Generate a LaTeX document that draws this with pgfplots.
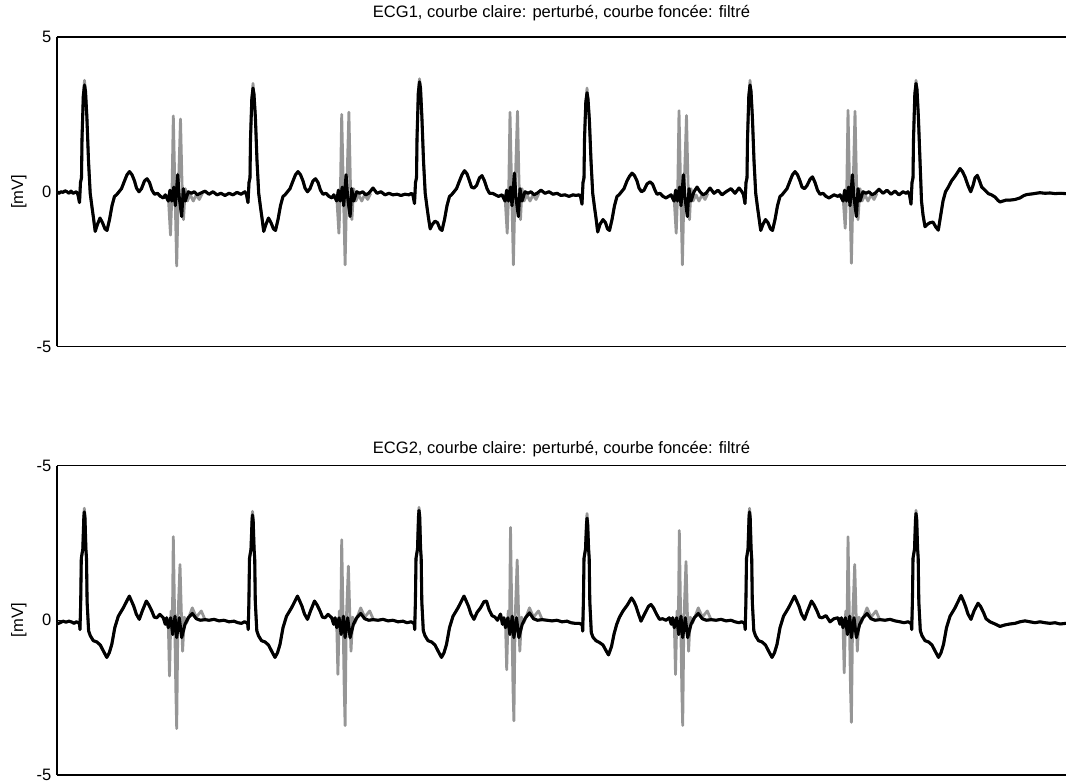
\documentclass[border=0pt]{standalone}
\usepackage{fontspec}
\setmainfont{Liberation Sans}
\usepackage{pgfplots}
\usepackage{pgfplotstable}
\pgfplotsset{compat=1.18}
\newcommand\fs{\fontsize{12.4pt}{14pt}\selectfont}
\definecolor{noisy}{RGB}{150,150,150}

% ECG1 filtered (dark curve); x in sample position, y in mV
\pgfplotstableread[row sep=\\]{
x y\\
57 0.0\\ 59 -0.05\\ 61 0.0\\ 63 -0.02\\ 65 0.03\\ 67 0.0\\ 69 -0.05\\ 71 0.02\\ 73 -0.05\\
76.5 0.0\\ 78 -0.1\\ 79.5 -0.35\\ 80.5 0.3\\ 81.5 0.45\\ 82 1.7\\ 83.3 3.1\\ 84.5 3.45\\ 85.5 3.25\\ 86.9 2.4\\ 88.5 1.0\\ 90.2 -0.05\\ 92 -0.5\\ 93.5 -0.85\\ 95.2 -1.28\\ 97.5 -1.05\\ 100 -0.85\\ 102.5 -1.0\\ 105 -1.2\\ 107 -1.25\\ 109.5 -0.9\\ 112 -0.45\\ 114.5 -0.15\\ 116.5 -0.1\\ 119 0.0\\ 121.5 0.1\\ 124.5 0.35\\ 127 0.55\\ 129.5 0.65\\ 132 0.55\\ 134.5 0.35\\ 136.5 0.12\\ 139 0.0\\ 141.5 0.1\\ 144.5 0.35\\ 147 0.42\\ 149.5 0.3\\ 152 0.05\\ 154.5 -0.08\\ 157.5 -0.05\\ 160.5 -0.15\\ 163.5 -0.2\\
165.3 -0.1\\ 168.3 -0.3\\ 170 0.05\\ 171.8 -0.3\\ 173.8 0.15\\ 175.3 -0.45\\ 177.7 0.55\\ 179.3 -0.2\\ 181.7 -0.8\\ 183.3 0.1\\ 185.3 -0.3\\ 188.3 0.0\\ 191.3 -0.05\\ 194.3 0.0\\ 197.3 -0.1\\ 200.3 -0.05\\
205 0.02\\ 209 -0.08\\ 213 0.0\\ 217 -0.1\\ 221 -0.05\\ 225 -0.12\\ 229 -0.05\\ 233 -0.1\\ 237 -0.02\\ 241 -0.08\\
245 0.0\\ 246.5 -0.1\\ 248 -0.35\\ 249 0.3\\ 250 0.45\\ 250.5 1.7\\ 251.8 3.0\\ 253 3.35\\ 254 3.15\\ 255.4 2.4\\ 257 1.0\\ 258.7 -0.05\\ 260.5 -0.5\\ 262 -0.85\\ 263.7 -1.28\\ 266 -1.05\\ 268.5 -0.85\\ 271 -1.0\\ 273.5 -1.2\\ 275.5 -1.25\\ 278 -0.9\\ 280.5 -0.45\\ 283 -0.15\\ 285 -0.1\\ 287.5 0.0\\ 290 0.1\\ 293 0.35\\ 295.5 0.55\\ 298 0.65\\ 300.5 0.55\\ 303 0.35\\ 305 0.12\\ 307.5 0.0\\ 310 0.1\\ 313 0.35\\ 315.5 0.42\\ 318 0.3\\ 320.5 0.05\\ 323 -0.08\\ 326 -0.05\\ 329 -0.15\\ 332 -0.2\\
333.7 -0.1\\ 336.7 -0.3\\ 338.4 0.05\\ 340.2 -0.3\\ 342.2 0.15\\ 343.7 -0.45\\ 346.1 0.55\\ 347.7 -0.2\\ 350.1 -0.8\\ 351.7 0.1\\ 353.7 -0.3\\ 356.7 0.0\\ 359.7 -0.05\\ 362.7 0.0\\ 365.7 -0.1\\ 368.7 -0.05\\
373 0.12\\ 377 -0.05\\ 381 0.0\\ 385 -0.1\\ 389 -0.05\\ 393 -0.1\\ 397 -0.08\\ 401 -0.12\\ 405 -0.08\\ 409 -0.1\\
411.5 -0.05\\ 413 -0.12\\ 414.5 -0.38\\ 415.5 0.3\\ 416.5 0.45\\ 417 1.7\\ 418.3 3.2\\ 419.5 3.55\\ 420.5 3.35\\ 421.9 2.4\\ 423.5 1.0\\ 425.2 -0.05\\ 427 -0.5\\ 428.5 -0.85\\ 430.2 -1.2\\ 432.5 -1.05\\ 435 -0.95\\ 437.5 -1.0\\ 440 -1.2\\ 442 -1.25\\ 444.5 -0.9\\ 447 -0.45\\ 449.5 -0.15\\ 451.5 -0.1\\ 454 0.0\\ 456.5 0.1\\ 459.5 0.35\\ 462 0.55\\ 464.5 0.68\\ 467 0.58\\ 469.5 0.35\\ 471.5 0.15\\ 474 0.12\\ 476.5 0.2\\ 479.5 0.45\\ 482 0.52\\ 484.5 0.35\\ 487 0.1\\ 489.5 -0.05\\ 492.5 -0.05\\ 495.5 -0.1\\ 498.5 -0.15\\
502 -0.1\\ 505 -0.3\\ 506.7 0.05\\ 508.5 -0.3\\ 510.5 0.15\\ 512 -0.45\\ 514.4 0.6\\ 516 -0.2\\ 518.4 -0.8\\ 520 0.1\\ 522 -0.3\\ 525 0.0\\ 528 -0.05\\ 531 0.0\\ 534 -0.1\\ 537 -0.05\\
541 0.05\\ 545 -0.05\\ 549 0.0\\ 553 -0.08\\ 557 -0.05\\ 561 -0.12\\ 565 -0.1\\ 569 -0.15\\ 573 -0.1\\ 576 -0.12\\
579 -0.1\\ 580.5 -0.15\\ 582 -0.4\\ 583 0.3\\ 584 0.45\\ 584.5 1.7\\ 585.8 2.9\\ 587 3.2\\ 588 3.0\\ 589.4 2.3\\ 591 1.0\\ 592.7 -0.05\\ 594.5 -0.5\\ 596 -0.85\\ 597.7 -1.3\\ 600 -1.05\\ 603 -0.9\\ 605.5 -1.0\\ 607.5 -1.2\\ 609.5 -1.25\\ 612 -0.9\\ 614.5 -0.45\\ 617 -0.15\\ 619 -0.1\\ 621.5 0.0\\ 624 0.1\\ 627 0.35\\ 629.5 0.5\\ 632 0.6\\ 634.5 0.52\\ 637 0.35\\ 639 0.12\\ 641.5 0.0\\ 644 0.05\\ 647 0.25\\ 650 0.32\\ 652.5 0.25\\ 655 0.05\\ 657 -0.08\\ 660 -0.05\\ 663 -0.15\\ 666 -0.2\\
671 -0.1\\ 674 -0.3\\ 675.7 0.05\\ 677.5 -0.3\\ 679.5 0.15\\ 681 -0.45\\ 683.4 0.55\\ 685 -0.2\\ 687.4 -0.8\\ 689 0.1\\ 691 -0.3\\ 694 0.0\\ 697 0.15\\ 700 0.0\\ 703 -0.1\\ 706 -0.05\\
710 0.12\\ 714 -0.05\\ 718 0.05\\ 722 -0.1\\ 726 0.0\\ 731 0.1\\ 735 -0.05\\ 739 0.12\\
742 0.0\\ 743.5 -0.1\\ 745 -0.38\\ 746 0.3\\ 747 0.45\\ 747.5 1.7\\ 748.8 3.1\\ 750 3.45\\ 751 3.25\\ 752.4 2.4\\ 754 1.0\\ 755.7 -0.05\\ 757.5 -0.5\\ 759 -0.85\\ 760.7 -1.25\\ 763 -1.05\\ 765.5 -0.9\\ 768 -1.0\\ 770.5 -1.2\\ 772.5 -1.25\\ 775 -0.9\\ 777.5 -0.45\\ 780 -0.15\\ 782 -0.1\\ 784.5 0.0\\ 787 0.1\\ 790 0.35\\ 792.5 0.55\\ 795 0.65\\ 797.5 0.55\\ 800 0.35\\ 802 0.15\\ 804.5 0.1\\ 807 0.2\\ 810 0.4\\ 812.5 0.48\\ 815 0.3\\ 817.5 0.05\\ 820 -0.08\\ 823 -0.05\\ 826 -0.15\\ 829 -0.2\\ 834 -0.1\\ 838 -0.15\\
840 -0.1\\ 843 -0.3\\ 844.7 0.05\\ 846.5 -0.3\\ 848.5 0.15\\ 850 -0.45\\ 852.4 0.55\\ 854 -0.2\\ 856.4 -0.8\\ 858 0.1\\ 860 -0.3\\ 863 0.0\\ 866 -0.05\\ 869 0.0\\ 872 -0.1\\ 875 -0.05\\
879 0.08\\ 883 -0.05\\ 887 0.05\\ 891 -0.08\\ 895 0.02\\ 899 -0.1\\ 903 0.0\\ 906 -0.05\\
908 0.0\\ 909.5 -0.1\\ 911 -0.4\\ 912 0.3\\ 913 0.45\\ 913.5 1.7\\ 914.8 3.15\\ 916 3.5\\ 917 3.3\\ 918.4 2.4\\ 920 1.0\\ 921.5 -0.3\\ 923 -0.75\\ 925 -1.13\\ 927.5 -1.05\\ 930 -1.0\\ 933 -0.98\\ 936 -1.15\\ 938.3 -1.24\\ 940.5 -0.8\\ 943 -0.3\\ 945.5 0.0\\ 948.3 0.15\\ 951.5 0.35\\ 955 0.5\\ 957.5 0.62\\ 960 0.75\\ 962.5 0.65\\ 965 0.48\\ 968 0.2\\ 970.7 0.0\\ 973 0.2\\ 975 0.45\\ 977.3 0.53\\ 979.5 0.35\\ 981.7 0.15\\ 985 0.05\\ 988.3 -0.06\\ 991.5 -0.1\\ 995 -0.17\\ 998 -0.28\\ 1000 -0.33\\ 1003 -0.3\\ 1006 -0.27\\ 1010 -0.27\\ 1015 -0.25\\ 1020 -0.2\\ 1024 -0.12\\ 1027 -0.09\\ 1032 -0.07\\ 1036 -0.05\\ 1040 -0.03\\ 1045 -0.05\\ 1050 -0.04\\ 1055 -0.06\\ 1060 -0.05\\ 1066 -0.06\\
}\ecgAfilt

% ECG1 perturbed (light curve) where it departs from the filtered one
\pgfplotstableread[row sep=\\]{
x y\\
83.9 3.3\\ 84.5 3.6\\ 85.1 3.35\\ nan nan\\
252.4 3.2\\ 253 3.5\\ 253.6 3.25\\ nan nan\\
418.9 3.4\\ 419.5 3.65\\ 420.1 3.45\\ nan nan\\
586.4 3.05\\ 587 3.35\\ 587.6 3.1\\ nan nan\\
749.4 3.3\\ 750 3.6\\ 750.6 3.35\\ nan nan\\
915.4 3.35\\ 916 3.6\\ 916.6 3.4\\ nan nan\\
165.3 -0.1\\ 168.3 -0.15\\ 170.5 -1.4\\ 172 0.0\\ 173.3 2.45\\ 174.8 0.3\\ 176.7 -2.4\\ 178.3 0.0\\ 180.5 2.35\\ 182 0.3\\ 183.5 -0.9\\ 185.3 0.1\\ 187.3 -0.3\\ 190.3 -0.1\\ 193.3 -0.3\\ 196.3 -0.1\\ 199.3 -0.25\\ 202.3 -0.05\\ nan nan\\
333.7 -0.1\\ 336.7 -0.15\\ 338.9 -1.34\\ 340.4 0.0\\ 341.7 2.5\\ 343.2 0.3\\ 345.1 -2.36\\ 346.7 0.0\\ 348.9 2.57\\ 350.4 0.3\\ 351.9 -0.9\\ 353.7 0.1\\ 355.7 -0.3\\ 358.7 -0.1\\ 361.7 -0.3\\ 364.7 -0.1\\ 367.7 -0.25\\ 370.7 -0.05\\ nan nan\\
502 -0.1\\ 505 -0.15\\ 507.2 -1.34\\ 508.7 0.0\\ 510 2.57\\ 511.5 0.3\\ 513.4 -2.36\\ 515 0.0\\ 517.5 2.6\\ 519 0.3\\ 520.5 -0.9\\ 522 0.1\\ 524 -0.3\\ 527 -0.1\\ 530 -0.3\\ 533 -0.1\\ 536 -0.25\\ 539 -0.05\\ nan nan\\
671 -0.1\\ 674 -0.15\\ 676.2 -1.34\\ 677.7 0.0\\ 679 2.62\\ 680.5 0.3\\ 682.4 -2.36\\ 684 0.0\\ 686.5 2.46\\ 688 0.3\\ 689.5 -0.9\\ 691 0.1\\ 693 -0.3\\ 696 -0.1\\ 699 -0.3\\ 702 -0.1\\ 705 -0.25\\ 708 -0.05\\ nan nan\\
840 -0.1\\ 843 -0.15\\ 845.2 -1.18\\ 846.7 0.0\\ 848 2.63\\ 849.5 0.3\\ 851.4 -2.31\\ 853 0.0\\ 855 2.6\\ 856.5 0.3\\ 858 -0.9\\ 860 0.1\\ 862 -0.3\\ 865 -0.1\\ 868 -0.3\\ 871 -0.1\\ 874 -0.25\\ 877 -0.05\\
}\ecgAnoise

% ECG2 filtered (dark curve)
\pgfplotstableread[row sep=\\]{
x y\\
57 -0.12\\ 60 -0.08\\ 63 -0.03\\ 66 -0.06\\ 69 -0.03\\ 72 -0.06\\ 74 -0.1\\
76.3 -0.05\\ 78.3 -0.08\\ 79.5 -0.12\\ 80 -0.3\\ 80.7 0.6\\ 81.3 2.0\\ 82.8 2.3\\ 83.8 3.3\\ 84.3 3.5\\ 85 3.3\\ 85.9 2.3\\ 86.5 2.0\\ 87.1 0.6\\ 88.6 -0.34\\ 90.3 -0.5\\ 93.3 -0.66\\ 96.8 -0.7\\ 100.3 -0.8\\ 103.3 -0.99\\ 106.8 -1.2\\ 109.3 -1.05\\ 111.8 -0.78\\ 114.8 -0.24\\ 118.3 0.13\\ 123.3 0.4\\ 129.3 0.78\\ 131.8 0.6\\ 133.8 0.45\\ 136.3 0.2\\ 139.3 0.03\\ 142.3 0.3\\ 146.3 0.62\\ 148.8 0.5\\ 151.8 0.3\\ 154.3 0.1\\ 156.8 0.08\\ 159.8 0.19\\
163.3 0.08\\ 165.3 -0.13\\ 166.7 0.08\\ 168.3 -0.24\\ 170.7 0.08\\ 172.7 -0.46\\ 175 0.13\\ 176.7 -0.56\\ 179.3 0.08\\ 181.7 -0.56\\ 185 -0.13\\ 188.3 0.08\\ 192.3 0.22\\ 196.3 0.05\\ 200.3 0.0\\
205 0.02\\ 209 0.0\\ 214 0.03\\ 219 -0.02\\ 224 0.0\\ 229 -0.05\\ 234 -0.03\\ 238 -0.08\\ 241.5 -0.1\\
244.5 -0.05\\ 246.5 -0.08\\ 247.7 -0.12\\ 248.2 -0.3\\ 248.9 0.6\\ 249.5 2.0\\ 251 2.3\\ 252 3.2\\ 252.5 3.4\\ 253.2 3.2\\ 254.1 2.3\\ 254.7 2.0\\ 255.3 0.6\\ 256.8 -0.34\\ 258.5 -0.5\\ 261.5 -0.66\\ 265 -0.7\\ 268.5 -0.8\\ 271.5 -0.99\\ 275 -1.2\\ 277.5 -1.05\\ 280 -0.78\\ 283 -0.24\\ 286.5 0.13\\ 291.5 0.4\\ 297.5 0.78\\ 300 0.6\\ 302 0.45\\ 304.5 0.2\\ 307.5 0.03\\ 310.5 0.3\\ 314.5 0.62\\ 317 0.5\\ 320 0.3\\ 322.5 0.1\\ 325 0.08\\ 328 0.19\\
331.7 0.08\\ 333.7 -0.13\\ 335.1 0.08\\ 336.7 -0.24\\ 339.1 0.08\\ 341.1 -0.46\\ 343.4 0.13\\ 345.1 -0.56\\ 347.7 0.08\\ 350.1 -0.56\\ 353.4 -0.13\\ 356.7 0.08\\ 360.7 0.22\\ 364.7 0.05\\ 368.7 0.0\\
373 0.02\\ 378 0.0\\ 383 0.03\\ 388 -0.02\\ 393 0.0\\ 398 -0.05\\ 403 -0.03\\ 407 -0.08\\
411 -0.05\\ 413 -0.08\\ 414.2 -0.12\\ 414.7 -0.3\\ 415.4 0.6\\ 416 2.0\\ 417.5 2.3\\ 418.5 3.35\\ 419 3.55\\ 419.7 3.35\\ 420.6 2.3\\ 421.2 2.0\\ 421.8 0.6\\ 423.3 -0.34\\ 425 -0.5\\ 428 -0.66\\ 431.5 -0.7\\ 435 -0.8\\ 438 -0.99\\ 441.5 -1.2\\ 444 -1.05\\ 446.5 -0.78\\ 449.5 -0.24\\ 453 0.13\\ 458 0.4\\ 464 0.78\\ 466.5 0.6\\ 468.5 0.45\\ 471 0.2\\ 474 0.03\\ 477 0.25\\ 480.5 0.4\\ 484 0.6\\ 486.5 0.62\\ 489 0.35\\ 492 0.15\\ 495 0.1\\ 497.5 0.0\\
500.5 0.2\\ 502.5 -0.13\\ 503.9 0.08\\ 505.5 -0.24\\ 507.9 0.08\\ 509.9 -0.46\\ 512.2 0.13\\ 513.9 -0.56\\ 516.5 0.08\\ 518.9 -0.56\\ 522.2 -0.13\\ 525.5 0.08\\ 529.5 0.24\\ 533.5 0.05\\ 537.5 0.0\\
542 0.02\\ 547 0.0\\ 552 -0.02\\ 557 0.0\\ 562 -0.05\\ 567 -0.03\\ 571 -0.08\\ 575 -0.1\\
579 -0.1\\ 581 -0.12\\ 582.2 -0.15\\ 582.7 -0.35\\ 583.4 0.6\\ 584 2.0\\ 585.5 2.3\\ 586.5 3.1\\ 587 3.3\\ 587.7 3.1\\ 588.6 2.3\\ 589.2 2.0\\ 589.8 0.6\\ 591.3 -0.4\\ 593 -0.55\\ 596 -0.66\\ 599.5 -0.72\\ 603 -0.8\\ 606 -0.98\\ 608.5 -1.12\\ 611.5 -0.85\\ 614 -0.45\\ 616.7 -0.13\\ 619.5 0.1\\ 623 0.3\\ 627.5 0.5\\ 631.5 0.72\\ 634 0.6\\ 636 0.45\\ 638.5 0.2\\ 641 -0.03\\ 644.5 0.2\\ 648.5 0.45\\ 651 0.51\\ 653.5 0.4\\ 656.5 0.2\\ 659.5 0.03\\ 662.5 0.05\\ 666 0.0\\
669.3 0.08\\ 671.3 -0.13\\ 672.7 0.08\\ 674.3 -0.24\\ 676.7 0.08\\ 678.7 -0.46\\ 681 0.13\\ 682.7 -0.56\\ 685.3 0.08\\ 687.7 -0.56\\ 691 -0.13\\ 694.3 0.08\\ 698.3 0.22\\ 702.3 0.05\\ 706.3 0.0\\
711 0.02\\ 716 0.0\\ 721 0.03\\ 726 -0.02\\ 731 0.0\\ 735 -0.05\\ 739 -0.08\\
741.5 -0.05\\ 743.5 -0.08\\ 744.7 -0.12\\ 745.2 -0.3\\ 745.9 0.6\\ 746.5 2.0\\ 748 2.3\\ 749 3.3\\ 749.5 3.5\\ 750.2 3.3\\ 751.1 2.3\\ 751.7 2.0\\ 752.3 0.6\\ 753.8 -0.34\\ 755.5 -0.5\\ 758.5 -0.66\\ 762 -0.7\\ 765.5 -0.8\\ 768.5 -0.99\\ 772 -1.2\\ 774.5 -1.05\\ 777 -0.78\\ 780 -0.24\\ 783.5 0.13\\ 788.5 0.4\\ 794.5 0.78\\ 797 0.6\\ 799 0.45\\ 801.5 0.2\\ 804.5 0.03\\ 807.5 0.3\\ 811.5 0.62\\ 814 0.5\\ 817 0.3\\ 819.5 0.1\\ 822 0.08\\ 826 0.15\\ 830 -0.05\\ 834 0.05\\
838 0.08\\ 840 -0.13\\ 841.4 0.08\\ 843 -0.24\\ 845.4 0.08\\ 847.4 -0.46\\ 849.7 0.13\\ 851.4 -0.56\\ 854 0.08\\ 856.4 -0.56\\ 859.7 -0.13\\ 863 0.08\\ 867 0.22\\ 871 0.05\\ 875 0.0\\
880 0.02\\ 885 0.0\\ 890 0.03\\ 895 -0.02\\ 900 -0.05\\ 904 -0.08\\
908 -0.05\\ 910 -0.08\\ 911.2 -0.12\\ 911.7 -0.3\\ 912.4 0.6\\ 913 2.0\\ 914.5 2.3\\ 915.5 3.25\\ 916 3.45\\ 916.7 3.25\\ 917.6 2.3\\ 918.2 2.0\\ 918.8 0.6\\ 920.3 -0.34\\ 922 -0.5\\ 925 -0.66\\ 928.5 -0.7\\ 932 -0.8\\ 935 -0.99\\ 938.5 -1.2\\ 941 -1.05\\ 943.5 -0.78\\ 946.5 -0.24\\ 950 0.13\\ 955 0.4\\ 961 0.8\\ 963.5 0.62\\ 965.5 0.45\\ 968 0.2\\ 971 0.03\\ 974 0.3\\ 978 0.55\\ 980.5 0.45\\ 983.5 0.25\\ 986 0.05\\ 990 -0.05\\ 995 -0.12\\ 1000 -0.2\\ 1005 -0.15\\ 1010 -0.12\\ 1015 -0.1\\ 1020 -0.05\\ 1025 -0.02\\ 1030 -0.05\\ 1035 -0.08\\ 1040 -0.05\\ 1045 -0.08\\ 1050 -0.1\\ 1055 -0.08\\ 1060 -0.12\\ 1066 -0.1\\
}\ecgBfilt

% ECG2 perturbed (light curve) where it departs from the filtered one
\pgfplotstableread[row sep=\\]{
x y\\
83.8 3.35\\ 84.3 3.62\\ 85 3.35\\ nan nan\\
252 3.25\\ 252.5 3.52\\ 253.2 3.25\\ nan nan\\
418.5 3.4\\ 419 3.65\\ 419.7 3.4\\ nan nan\\
586.5 3.2\\ 587 3.45\\ 587.7 3.2\\ nan nan\\
749 3.35\\ 749.5 3.62\\ 750.2 3.35\\ nan nan\\
915.5 3.3\\ 916 3.55\\ 916.7 3.3\\ nan nan\\
165.3 -0.13\\ 168.3 -0.1\\ 169.5 -1.8\\ 171 0.3\\ 172.3 -0.3\\ 173.3 2.7\\ 174.6 0.2\\ 175.8 -2.2\\ 176.7 -3.5\\ 177.9 0.0\\ 180 1.8\\ 181.3 0.3\\ 182.6 -1.0\\ 184.3 0.1\\ 186.3 -0.1\\ 188.8 0.1\\ 192.3 0.4\\ 196.3 0.1\\ 201.3 0.3\\ 205.3 0.0\\ nan nan\\
333.7 -0.13\\ 336.7 -0.1\\ 337.9 -1.75\\ 339.4 0.3\\ 340.7 -0.3\\ 341.7 2.6\\ 343 0.2\\ 344.2 -2.2\\ 345.1 -3.4\\ 346.3 0.0\\ 348.4 1.75\\ 349.7 0.3\\ 351 -1.0\\ 352.7 0.1\\ 354.7 -0.1\\ 357.2 0.1\\ 360.7 0.4\\ 364.7 0.1\\ 369.7 0.3\\ 373.7 0.0\\ nan nan\\
502.5 -0.13\\ 505.5 -0.1\\ 506.7 -1.6\\ 508.2 0.3\\ 509.5 -0.3\\ 510.5 3.0\\ 511.8 0.2\\ 513 -2.2\\ 513.9 -3.25\\ 515.1 0.0\\ 517.2 1.95\\ 518.5 0.3\\ 519.8 -1.0\\ 521.5 0.1\\ 523.5 -0.1\\ 526 0.1\\ 529.5 0.4\\ 533.5 0.1\\ 538.5 0.3\\ 542.5 0.0\\ nan nan\\
671.3 -0.13\\ 674.3 -0.1\\ 675.5 -1.75\\ 677 0.3\\ 678.3 -0.3\\ 679.3 2.9\\ 680.6 0.2\\ 681.8 -2.2\\ 682.7 -3.4\\ 683.9 0.0\\ 686 1.9\\ 687.3 0.3\\ 688.6 -1.0\\ 690.3 0.1\\ 692.3 -0.1\\ 694.8 0.1\\ 698.3 0.4\\ 702.3 0.1\\ 707.3 0.3\\ 711.3 0.0\\ nan nan\\
840 -0.13\\ 843 -0.1\\ 844.2 -1.7\\ 845.7 0.3\\ 847 -0.3\\ 848 2.7\\ 849.3 0.2\\ 850.5 -2.2\\ 851.4 -3.3\\ 852.6 0.0\\ 854.7 1.8\\ 856 0.3\\ 857.3 -1.0\\ 859 0.1\\ 861 -0.1\\ 863.5 0.1\\ 867 0.4\\ 871 0.1\\ 876 0.3\\ 880 0.0\\
}\ecgBnoise

\pgfplotsset{
  ecgaxis/.style={
    anchor=south west, scale only axis,
    width=756.75pt, height=232.125pt,
    xmin=57, xmax=1066, ymin=-5, ymax=5,
    axis x line*=box, axis y line*=left,
    axis line style={-, line width=0.8pt, black},
    xtick=\empty, ytick={-5,0,5},
    tick align=inside, major tick length=4pt,
    tick style={black, line width=0.8pt},
    yticklabel style={font=\fs, inner sep=0pt, xshift=-4pt},
    ylabel={[mV]},
    every axis y label/.style={at={(axis description cs:-0.0377,0.5)}, rotate=90, anchor=center, font=\fs},
    unbounded coords=jump,
    clip=true,
  },
  noisyline/.style={color=noisy, line width=2.1pt, line join=round},
  filtline/.style={color=black, line width=2.3pt, line join=round},
}

\begin{document}
\begin{tikzpicture}
\begin{axis}[ecgaxis, at={(0pt,321.375pt)},
  yticklabels={-5,0,5},
  title={ECG1, courbe claire: perturbé, courbe foncée: filtré},
  every axis title/.style={at={(axis description cs:0.5,1)}, anchor=center, yshift=18pt, font=\fs}]
\addplot[noisyline] table[x=x,y=y] {\ecgAfilt};
\addplot[noisyline] table[x=x,y=y] {\ecgAnoise};
\addplot[filtline] table[x=x,y=y] {\ecgAfilt};
\end{axis}
\begin{axis}[ecgaxis, at={(0pt,0pt)},
  yticklabels={-5,0,-5},
  title={ECG2, courbe claire: perturbé, courbe foncée: filtré},
  every axis title/.style={at={(axis description cs:0.5,1)}, anchor=center, yshift=12.5pt, font=\fs}]
\addplot[noisyline] table[x=x,y=y] {\ecgBfilt};
\addplot[noisyline] table[x=x,y=y] {\ecgBnoise};
\addplot[filtline] table[x=x,y=y] {\ecgBfilt};
\end{axis}
\pgfresetboundingbox
\path[use as bounding box] (-42.75pt,-5.25pt) rectangle (756.75pt,581.25pt);
\end{tikzpicture}
\end{document}
